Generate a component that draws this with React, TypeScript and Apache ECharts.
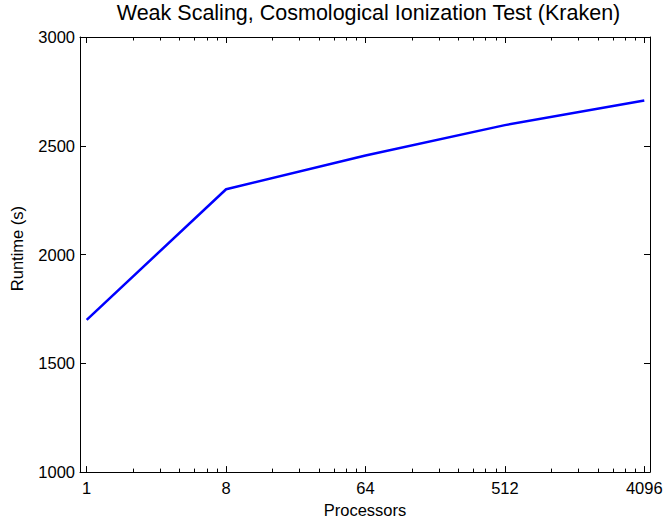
import React, { useEffect, useRef } from "react";
import * as echarts from "echarts";

const titleText = "Weak Scaling, Cosmological Ionization Test (Kraken)";
const processors = [1, 8, 64, 512, 4096];
const runtime = [1700, 2300, 2455, 2595, 2708];
const xLabelValues = [1, 8, 64, 512, 4096];
const xMinorValues = [2, 3, 4, 5, 6, 7, 16, 24, 32, 40, 48, 56, 128, 192, 256, 320, 384, 448, 1024, 1536, 2048, 2560, 3072, 3584];

const FONT = "Liberation Sans, Arial, Helvetica, sans-serif";

export default function App() {
  const ref = useRef<HTMLDivElement>(null);
  useEffect(() => {
    if (!ref.current) return;
    const chart = echarts.init(ref.current, undefined, { renderer: "svg" });
    const xMin = 0.905;
    const xMax = 4460;
    const baseX = (position: string, major: boolean, showLabel: boolean, showLine: boolean, name?: string) => ({
      type: "log",
      logBase: 2,
      position,
      min: xMin,
      max: xMax,
      name: name,
      nameLocation: "middle",
      nameGap: 24,
      nameTextStyle: { color: "#000", fontSize: 16.5, fontFamily: FONT },
      axisLine: { show: showLine, onZero: false, lineStyle: { color: "#000", width: 1 } },
      axisTick: {
        show: true,
        inside: true,
        length: major ? 6 : 3.5,
        customValues: major ? xLabelValues : xMinorValues,
        lineStyle: { color: "#000", width: 1 },
      },
      axisLabel: {
        show: showLabel,
        customValues: xLabelValues,
        color: "#000",
        fontSize: 16.5,
        fontFamily: FONT,
        margin: 7,
        formatter: (v: number) => String(Math.round(v)),
      },
      splitLine: { show: false },
    });
    const baseY = (position: string, showLabel: boolean, name?: string) => ({
      type: "value",
      position,
      min: 1000,
      max: 3000,
      interval: 500,
      name: name,
      nameLocation: "middle",
      nameGap: 55,
      nameTextStyle: { color: "#000", fontSize: 16.5, fontFamily: FONT, padding: [0, 0, 0, 12] },
      axisLine: { show: true, onZero: false, lineStyle: { color: "#000", width: 1 } },
      axisTick: { show: true, inside: true, length: 6, lineStyle: { color: "#000", width: 1 } },
      axisLabel: {
        show: showLabel,
        color: "#000",
        fontSize: 16.5,
        fontFamily: FONT,
        margin: 5,
        formatter: (v: number) => String(v),
      },
      splitLine: { show: false },
    });
    chart.setOption({
      animation: false,
      backgroundColor: "#fff",
      grid: { left: 80, right: 16, top: 37, bottom: 44, containLabel: false },
      graphic: [
        {
          type: "text",
          x: 368.5,
          y: 13,
          style: {
            text: titleText,
            fill: "#000",
            fontSize: 21.5,
            fontFamily: FONT,
            textAlign: "center",
            textVerticalAlign: "middle",
          },
        },
      ],
      xAxis: [
        baseX("bottom", true, true, true, "Processors"),
        baseX("bottom", false, false, false),
        baseX("top", true, false, true),
        baseX("top", false, false, false),
      ],
      yAxis: [baseY("left", true, "Runtime (s)"), baseY("right", false)],
      series: [
        {
          type: "line",
          xAxisIndex: 0,
          yAxisIndex: 0,
          data: processors.map((p, i) => [p, runtime[i]]),
          showSymbol: false,
          symbol: "none",
          lineStyle: { color: "#0000ff", width: 2.5 },
        },
      ],
    });
    return () => chart.dispose();
  }, []);
  return (
    <div
      ref={ref}
      style={{ position: "fixed", left: 0, top: 0, width: 666, height: 523, background: "#fff" }}
    />
  );
}
